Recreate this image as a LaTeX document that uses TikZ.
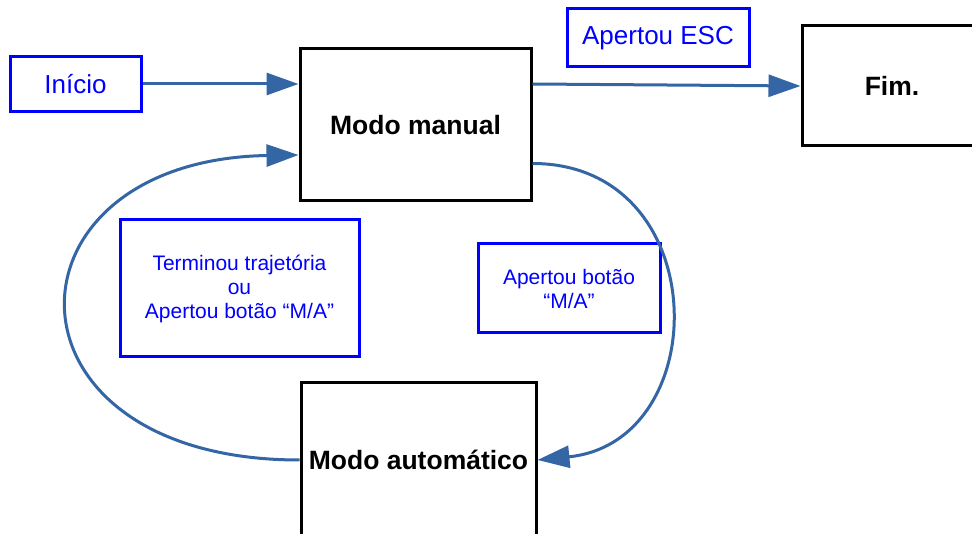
\documentclass[tikz,border=0pt]{standalone}
\usepackage{fontspec}
\setmainfont{Liberation Sans}
\usetikzlibrary{arrows.meta,calc}
\definecolor{flow}{RGB}{52,101,164}
\definecolor{labelblue}{RGB}{0,0,255}
\tikzset{
  state/.style={draw=black, line width=3pt, inner sep=0pt, font=\fontsize{26.5}{30}\selectfont\bfseries},
  cond/.style={draw=labelblue, text=labelblue, line width=3pt, inner sep=0pt, align=center},
  condbig/.style={cond, font=\fontsize{26}{30}\selectfont},
  condsmall/.style={cond, font=\fontsize{21}{24}\selectfont},
  flowarrow/.style={draw=flow, line width=3pt, -{Triangle[length=32pt,width=22pt]}}
}
\begin{document}
\begin{tikzpicture}[x=1pt,y=-1pt]
\useasboundingbox (0,0) rectangle (972,534);
\clip (0,0) rectangle (972,534);

% states
\node[state, minimum width=231pt, minimum height=152pt] (mm) at (415.5,125) {Modo manual};
\node[state, minimum width=180pt, minimum height=120pt] (fim) at (892,86) {Fim.};
\node[state, minimum width=235pt, minimum height=154pt] (auto) at (418.5,460) {Modo automático};

% transition conditions
\node[condbig, minimum width=131pt, minimum height=55pt] (ini) at (75.5,84) {Início};
\node[condbig, minimum width=182pt, minimum height=58pt] (esc) at (658,38) {Apertou ESC};
\node[condsmall, minimum width=239pt, minimum height=137pt] (term) at (239.5,288.5)
  {Terminou trajetória\\ou\\Apertou botão “M/A”};
\node[condsmall, minimum width=182pt, minimum height=89pt] (bot) at (569,288.5)
  {Apertou botão\\“M/A”};

% transitions
\coordinate (mmout) at ($(mm.east)+(0,-41)$);
\coordinate (mmlow) at ($(mm.south east)+(0,-39)$);
\coordinate (mmin) at ($(mm.west)+(0,30)$);

\draw[flowarrow] (ini.east) -- (ini.east -| mm.west);
\draw[flowarrow] (mmout) -- (fim.west);
\draw[flowarrow] (mmlow) .. controls +(182,0) and +(178,-18) .. (auto.east);
\draw[flowarrow] (auto.west) .. controls +(-310,0) and +(-305,5) .. (mmin);
\end{tikzpicture}
\end{document}
